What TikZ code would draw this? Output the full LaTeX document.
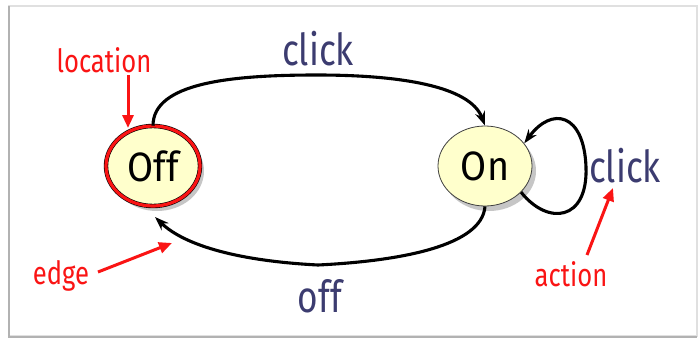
\documentclass[tikz,border=0pt]{standalone}
\usepackage{fontspec}
\setmainfont[FakeStretch=0.8]{Fira Sans}
\newfontfamily\statefont[FakeStretch=0.92]{Fira Sans}
\usetikzlibrary{arrows.meta,shapes.geometric,shadows}
\definecolor{ink}{RGB}{60,60,112}
\definecolor{lightyel}{RGB}{255,255,204}
\definecolor{annot}{RGB}{250,20,20}
\tikzset{
  x=1pt,y=1pt,
  state/.style={ellipse, minimum width=94pt, minimum height=80pt, inner sep=0pt,
    fill=lightyel, font=\statefont\fontsize{41}{43}\selectfont,
    drop shadow={shadow xshift=4pt, shadow yshift=-5pt, fill=black!28, opacity=0.8}},
  trans/.style={line width=3.1pt, draw=black, -{Stealth[length=14pt,width=10pt]}},
  actlabel/.style={text=ink, font=\fontsize{44}{46}\selectfont, inner sep=0pt},
  notelabel/.style={text=annot, font=\fontsize{32}{34}\selectfont, inner sep=0pt},
  notearrow/.style={line width=3pt, draw=annot, -{Triangle[length=13pt,width=11pt]}}
}
\begin{document}
\begin{tikzpicture}
\useasboundingbox (0,0) rectangle (699,341);
\fill[white] (0,0) rectangle (699,341);
% frame
\draw[black!12, line width=1.5pt] (9,5) rectangle (697,335);
\draw[black!30, line width=2.5pt] (9,335) -- (9,4) -- (697,4);
% states
\node[state, draw=black, double=annot, double distance=3.2pt, line width=0.6pt] (off) at (153,175) {Off};
\node[state, draw=black!75, line width=0.8pt] (on) at (485,175) {On};
% transitions
\draw[trans] (off.north) .. controls (153,258) and (230,266) .. (317,266)
  .. controls (400,266) and (470,255) .. (on.north);
\draw[trans] (on.south) .. controls (482,95) and (400,80) .. (318,76)
  .. controls (240,80) and (185,95) .. (155,124);
\draw[trans] (on.-36) .. controls (548,115) and (588,120) .. (586,174)
  .. controls (584,228) and (552,235) .. (on.30);
% action labels
\node[actlabel] (lclick) at (318,292) {click};
\node[actlabel] (loff) at (320,45) {off};
\node[actlabel] (lself) at (625,175) {click};
% annotations
\node[notelabel] (nloc) at (104,281) {location};
\node[notelabel] (nedge) at (61,65) {edge};
\node[notelabel] (nact) at (571,67) {action};
\coordinate (locfrom) at (128,266);
\coordinate (locto) at (128,213);
\coordinate (edgefrom) at (98,69);
\coordinate (edgeto) at (172,98);
\coordinate (actfrom) at (587,86);
\coordinate (actto) at (613,153);
\draw[notearrow] (locfrom) -- (locto);
\draw[notearrow] (edgefrom) -- (edgeto);
\draw[notearrow] (actfrom) -- (actto);
\end{tikzpicture}
\end{document}
